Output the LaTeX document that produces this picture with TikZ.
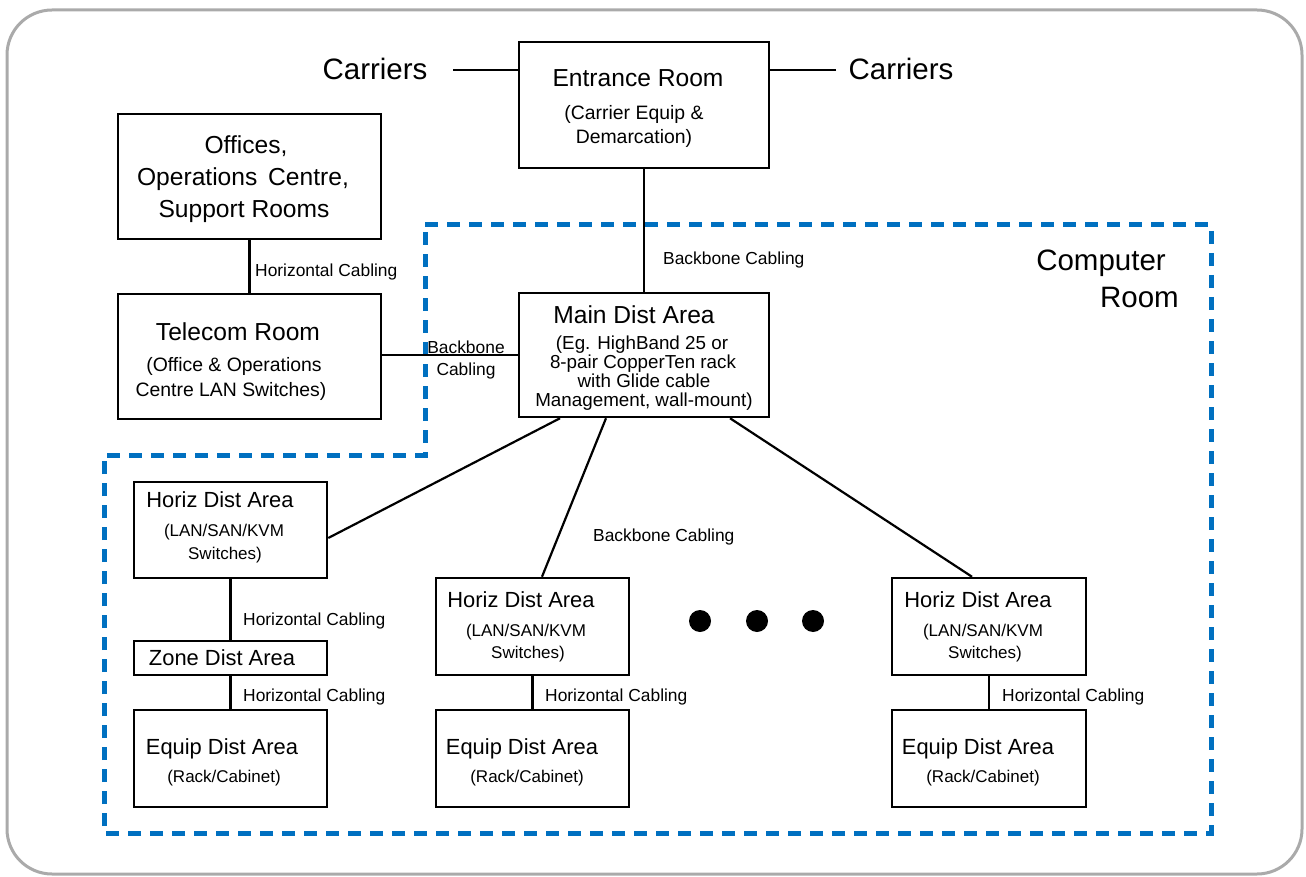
\documentclass[tikz,border=0pt]{standalone}
\usepackage{fontspec}
\setmainfont{Liberation Sans}
\definecolor{croom}{RGB}{0,112,192}
\definecolor{frame}{RGB}{170,170,170}
\tikzset{
  box/.style={draw, line width=2.5pt, inner sep=0pt},
  ttl/.style={font=\fontsize{24.6}{29}\selectfont, anchor=mid, inner sep=0pt, yshift=-5.5pt},
  stl/.style={font=\fontsize{21.9}{26}\selectfont, anchor=mid, inner sep=0pt, yshift=-5pt},
  big/.style={font=\fontsize{29.5}{37}\selectfont, anchor=mid, inner sep=0pt, yshift=-6.5pt},
  sub/.style={font=\fontsize{19.4}{23}\selectfont, anchor=mid, inner sep=0pt, yshift=-4.5pt},
  msub/.style={font=\fontsize{18.8}{22}\selectfont, anchor=mid, inner sep=0pt, yshift=-4.5pt},
  ssub/.style={font=\fontsize{17}{20}\selectfont, anchor=mid, inner sep=0pt, yshift=-4pt},
  lbl/.style={font=\fontsize{17.4}{21}\selectfont, anchor=mid west, inner sep=0pt, yshift=-4pt},
  wire/.style={line width=2.2pt},
  dotmark/.style={circle, fill=black, minimum size=22pt, inner sep=0pt},
}
\begin{document}
\begin{tikzpicture}[x=1pt,y=-1pt]
\useasboundingbox (0,0) rectangle (1306,877);
% outer frame
\draw[frame, line width=3pt, rounded corners=45pt] (7,10) rectangle (1302,874);
% computer room boundary
\draw[croom, line width=5pt, dash pattern=on 13pt off 9pt]
  (425,225) -- (1211,225) -- (1211,833) -- (104,833) -- (104,455) -- (425,455) -- cycle;

% boxes
\node[box, minimum width=250pt, minimum height=126pt] (ent) at (644,105) {};
\node[box, minimum width=263pt, minimum height=125pt] (off) at (249.5,176.5) {};
\node[box, minimum width=263pt, minimum height=125pt] (tel) at (249.5,356.5) {};
\node[box, minimum width=250pt, minimum height=124pt] (mda) at (644,355) {};
\node[box, minimum width=193pt, minimum height=96pt] (hdaL) at (230.5,530) {};
\node[box, minimum width=193pt, minimum height=34pt] (zda) at (230.5,658) {};
\node[box, minimum width=193pt, minimum height=97pt] (edaL) at (230.5,758.5) {};
\node[box, minimum width=193pt, minimum height=97pt] (hdaM) at (532.5,626.5) {};
\node[box, minimum width=193pt, minimum height=97pt] (edaM) at (532.5,758.5) {};
\node[box, minimum width=194pt, minimum height=97pt] (hdaR) at (989,626.5) {};
\node[box, minimum width=194pt, minimum height=97pt] (edaR) at (989,758.5) {};

% texts in boxes
\node[ttl] (entT) at (638,78) {Entrance Room};
\node[sub] (entS1) at (634,112) {(Carrier Equip \&};
\node[sub] (entS2) at (634,136) {Demarcation)};

\node[ttl] (offT1) at (246,145) {Offices,};
\node[ttl] (offT2) at (243,177) {Operations\hspace{4pt} Centre,};
\node[ttl] (offT3) at (244,209) {Support Rooms};

\node[ttl] (telT) at (238,332) {Telecom Room};
\node[sub] (telS1) at (234,364) {(Office \& Operations};
\node[sub] (telS2) at (231,389) {Centre LAN Switches)};

\node[ttl] (mdaT) at (634,315) {Main Dist Area};
\node[msub] (mdaS1) at (642,342) {(Eg. HighBand 25 or};
\node[msub] (mdaS2) at (643,361) {8-pair CopperTen rack};
\node[msub] (mdaS3) at (644,380) {with Glide cable};
\node[msub] (mdaS4) at (644,399) {Management, wall-mount)};

\node[stl] (hdaLT) at (220,500) {Horiz Dist Area};
\node[ssub] (hdaLS1) at (224,530) {(LAN/SAN/KVM};
\node[ssub] (hdaLS2) at (225,553) {Switches)};

\node[stl] (zdaT) at (222,658) {Zone Dist Area};

\node[stl] (edaLT) at (222,747) {Equip Dist Area};
\node[ssub] (edaLS) at (224,776) {(Rack/Cabinet)};

\node[stl] (hdaMT) at (521,600) {Horiz Dist Area};
\node[ssub] (hdaMS1) at (526,630) {(LAN/SAN/KVM};
\node[ssub] (hdaMS2) at (528,652) {Switches)};

\node[stl] (edaMT) at (522,747) {Equip Dist Area};
\node[ssub] (edaMS) at (527,776) {(Rack/Cabinet)};

\node[stl] (hdaRT) at (978,600) {Horiz Dist Area};
\node[ssub] (hdaRS1) at (983,630) {(LAN/SAN/KVM};
\node[ssub] (hdaRS2) at (985,652) {Switches)};

\node[stl] (edaRT) at (978,747) {Equip Dist Area};
\node[ssub] (edaRS) at (983,776) {(Rack/Cabinet)};

% carriers
\node[big] (carL) at (375,70) {Carriers};
\node[big] (carR) at (901,70) {Carriers};
\node[big, align=right, anchor=north east, yshift=0pt] (croomT) at (1179,243) {Computer\hspace*{13pt}\\Room};

% connectors
\draw[wire] (453,70) coordinate (cl) -- (ent.west |- cl);
\draw[wire] (836,70) coordinate (cr) -- (ent.east |- cr);
\draw[wire] (ent) -- (mda);
\draw[wire] (off) -- (tel);
\draw[wire] (tel.east |- 0,355) -- (mda.west |- 0,355);
\draw[wire] ([xshift=-84pt]mda.south) -- ([yshift=-8pt]hdaL.east);
\draw[wire] ([xshift=-38pt]mda.south) -- ([xshift=9.5pt]hdaM.north);
\draw[wire] ([xshift=86pt]mda.south) -- ([xshift=-17pt]hdaR.north);
\draw[wire] (hdaL) -- (zda);
\draw[wire] (zda) -- (edaL);
\draw[wire] (hdaM) -- (edaM);
\draw[wire] (hdaR) -- (edaR);

% cabling labels
\node[lbl] (l1) at (255,270) {Horizontal Cabling};
\node[lbl] (l2) at (663,258) {Backbone Cabling};
\node[lbl, anchor=center, align=center, yshift=0pt, font=\fontsize{17.4}{22}\selectfont] (l3) at (466,356) {Backbone\\Cabling};
\node[lbl] (l4) at (593,535) {Backbone Cabling};
\node[lbl] (l5) at (243,619) {Horizontal Cabling};
\node[lbl] (l6) at (243,695) {Horizontal Cabling};
\node[lbl] (l7) at (545,695) {Horizontal Cabling};
\node[lbl] (l8) at (1002,695) {Horizontal Cabling};

% dots
\node[dotmark] (d1) at (700,621) {};
\node[dotmark] (d2) at (757,621) {};
\node[dotmark] (d3) at (813,621) {};
\end{tikzpicture}
\end{document}
